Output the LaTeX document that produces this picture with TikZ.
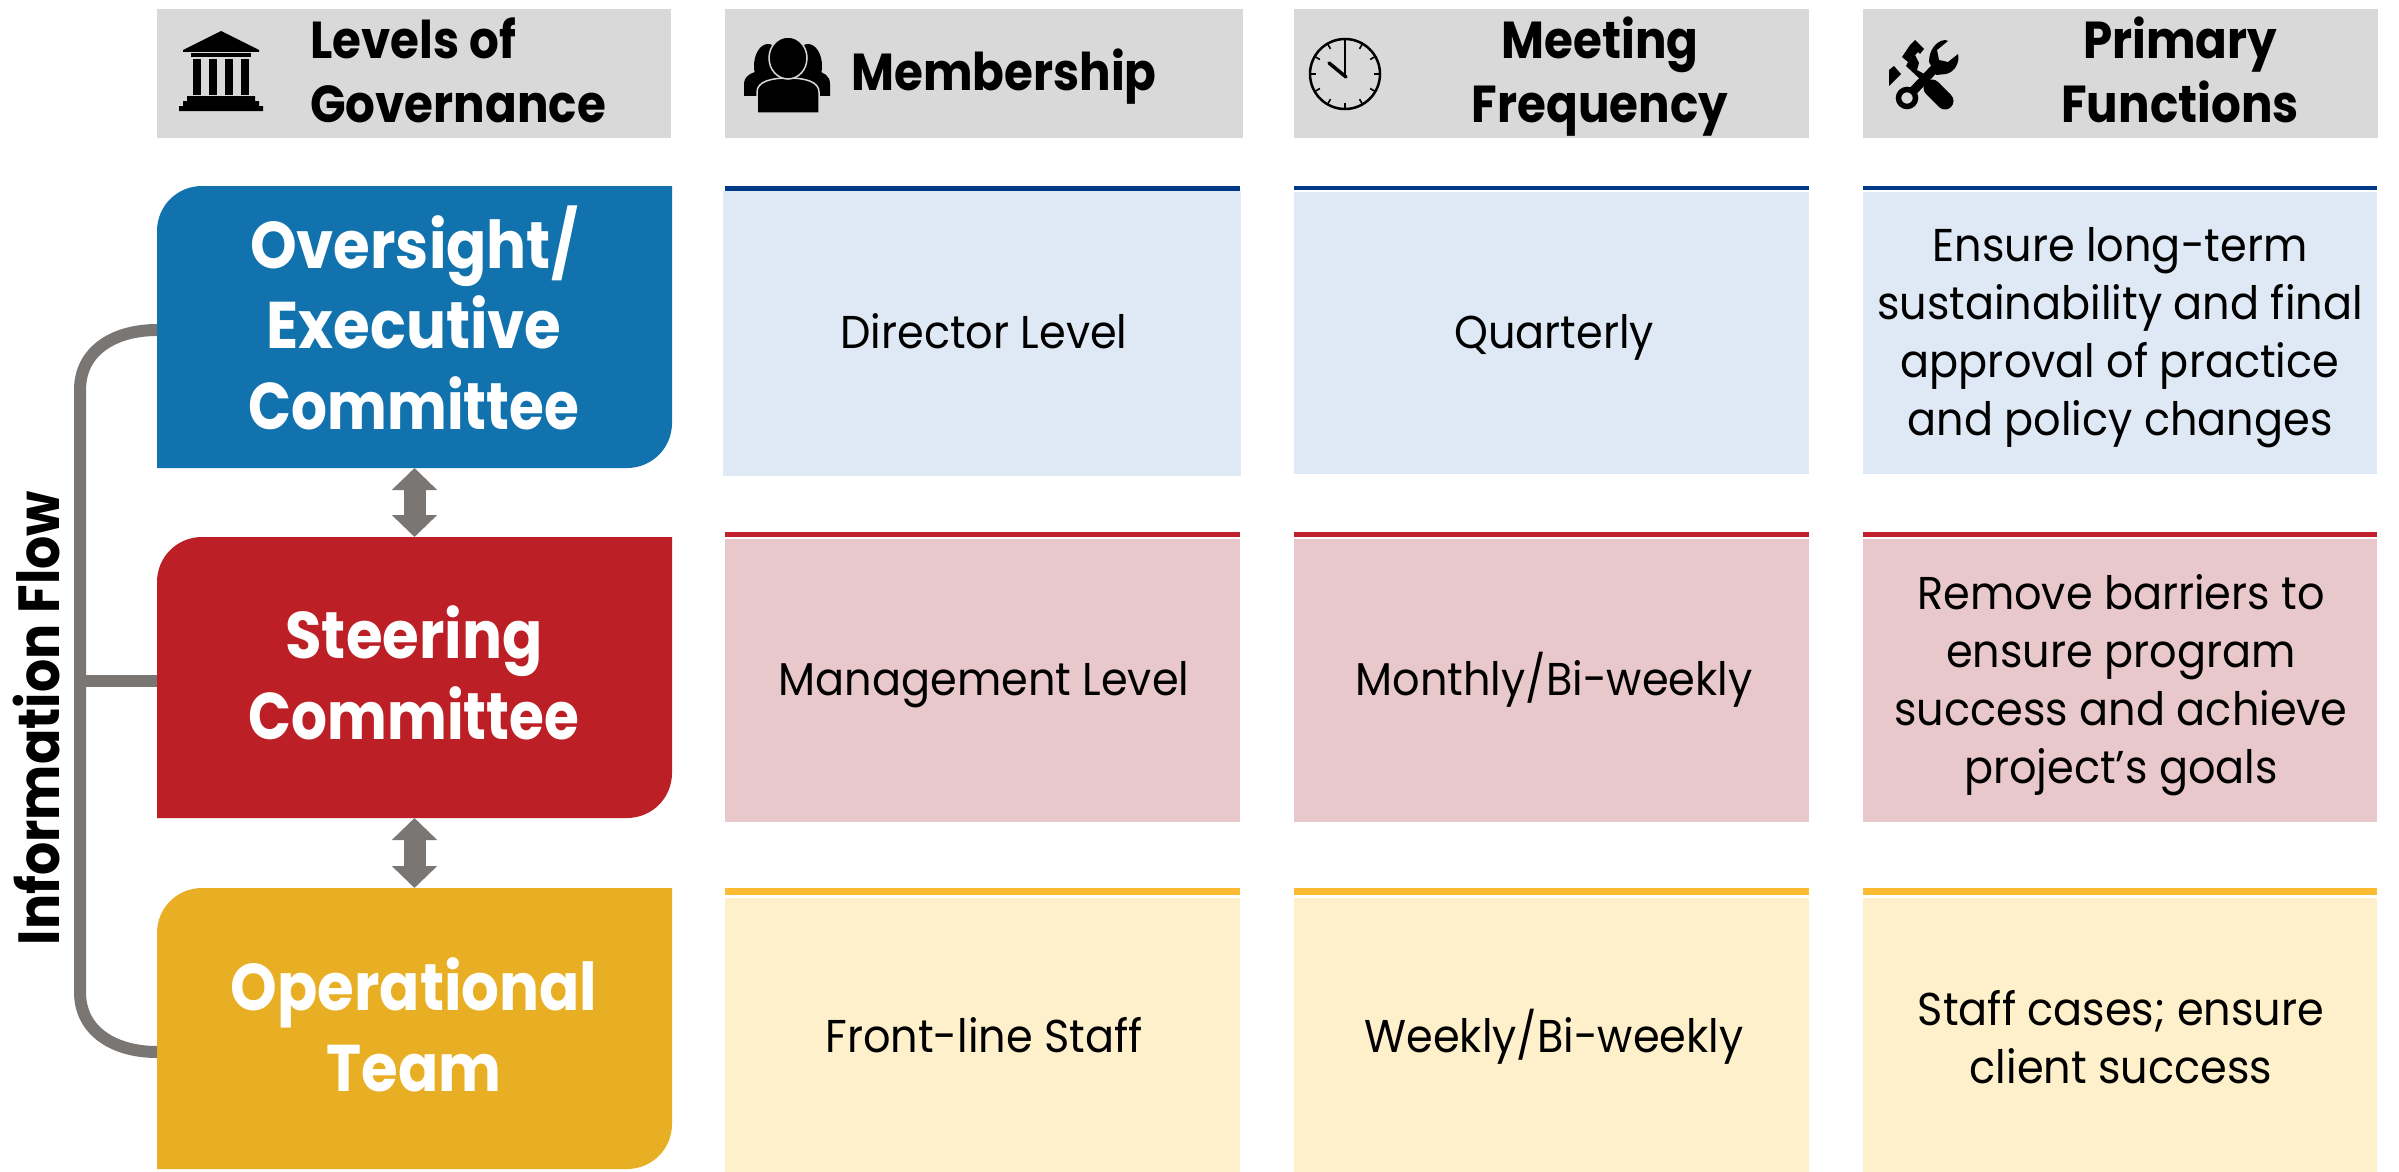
\documentclass[tikz,border=0pt]{standalone}
\usepackage{fontspec}
\usetikzlibrary{arrows.meta}
\setmainfont{Poppins}
\newfontfamily\bodyf[FakeStretch=0.935]{Poppins}
\newfontfamily\headf[FakeStretch=0.9]{Poppins}[BoldFont=Poppins Bold]
\newfontfamily\headn[FakeStretch=0.855]{Poppins}[BoldFont=Poppins Bold]
\definecolor{hdr}{HTML}{D9D9D9}
\definecolor{cblue}{HTML}{1172AE}
\definecolor{cred}{HTML}{BC1F25}
\definecolor{cgold}{HTML}{E8AF24}
\definecolor{cgrey}{HTML}{7A7674}
\definecolor{lblue}{HTML}{003A86}
\definecolor{lred}{HTML}{C0202C}
\definecolor{lgold}{HTML}{FDBA33}
\definecolor{fblue}{HTML}{DEE9F5}
\definecolor{fred}{HTML}{E9C8CB}
\definecolor{fgold}{HTML}{FFF0CC}
\tikzset{
  bodytxt/.style={anchor=base,inner sep=0pt,align=center,text=black,font=\bodyf\fontsize{46}{58}\selectfont},
  headtxt/.style={anchor=base,inner sep=0pt,align=center,text=black,font=\headf\bfseries\fontsize{52}{64}\selectfont},
  headleft/.style={headtxt,anchor=base west,align=left},
  leveltxt/.style={anchor=base,inner sep=0pt,align=center,text=white,font=\headf\bfseries\fontsize{66}{80.5}\selectfont},
  levelbox/.style={inner sep=0pt,outer sep=0pt,minimum width=515pt},
  flow/.style={draw=cgrey,line width=12pt,line cap=butt},
  updown/.style={draw=cgrey,line width=22pt,{Triangle[width=44pt,length=22pt]}-{Triangle[width=44pt,length=22pt]}},
}
% rounded level box: top-left and bottom-right corners curved
\newcommand\lvfill[3]{%
  \fill[#3] (157,#2) -- (157,#1+45) .. controls (157,#1+20) and (177,#1) .. (202,#1)
     -- (672,#1) -- (672,#2-45) .. controls (672,#2-20) and (652,#2) .. (627,#2) -- cycle;}
\begin{document}
\begin{tikzpicture}[x=1pt,y=-1pt]
\useasboundingbox (0,0) rectangle (2399,1172);
\fill[white] (0,0) rectangle (2399,1172);
% headers
\fill[hdr] (157,9) rectangle (671,138);
\fill[hdr] (725,9) rectangle (1243,138);
\fill[hdr] (1294,9) rectangle (1809,138);
\fill[hdr] (1863,9) rectangle (2378,138);
\node[headleft] (h1) at (310,122) {Levels of\\Governance};
\node[headtxt] (h2) at (1004,90) {Membership};
\node[headtxt] (h3) at (1600,122) {Meeting\\Frequency};
\node[headtxt] (h4) at (2180,122) {Primary\\Functions};
% building icon
\fill[black] (221,31) -- (259,50) -- (259,52) -- (183,52) -- (183,50) -- cycle;
\fill[black] (191,53) rectangle (251,57);
\foreach \cx in {197,213,229,245}{\fill[black] (\cx-4,59) rectangle (\cx+4,95);}
\fill[black] (187,96) -- (255,96) -- (255,101) -- (259,101) -- (259,106) -- (263,106) -- (263,111)
  -- (179,111) -- (179,106) -- (183,106) -- (183,101) -- (187,101) -- cycle;
% people icon
\fill[black] (744,96) -- (744,84) .. controls (744,76) and (752,72) .. (760,71) -- (816,71)
  .. controls (824,72) and (830,76) .. (830,84) -- (830,96) -- cycle;
\fill[black] (768,66) ellipse [x radius=14,y radius=22];
\fill[black] (808,66) ellipse [x radius=14,y radius=22];
\fill[black,draw=hdr,line width=1.5pt] (757,113) -- (757,92) .. controls (757,82) and (770,78) .. (788,78)
  .. controls (806,78) and (819,82) .. (819,92) -- (819,113) -- cycle;
\fill[black,draw=hdr,line width=1.5pt] (788,58) ellipse [x radius=19,y radius=21];
\fill[hdr] (744,96) rectangle (757,113);
\fill[hdr] (819,96) rectangle (831,113);
% clock icon
\draw[black,line width=2.5pt] (1345,74) circle [radius=35];
\foreach \a in {0,30,...,330}{\draw[black,line width=1.6pt] (1345,74) ++(\a:35) -- ++(\a+180:6);}
\draw[black,line width=1.4pt] (1345,77) -- (1345,45);
\draw[black,line width=3.5pt,line cap=round] (1346,77) -- (1329,63);
% tools icon
\draw[black,line width=9pt] (1913,91) -- (1940,63);
\draw[black,line width=5.5pt] (1907,98) circle [radius=8.5];
\fill[black] (1929,62) .. controls (1929,50) and (1936,41) .. (1945,40) -- (1948,41)
  -- (1937,50) -- (1939,60) -- (1948,62) -- (1958,54) .. controls (1960,62) and (1955,72) .. (1946,74)
  -- (1936,75) -- cycle;
\draw[black,line width=17pt,line cap=round] (1932,88) -- (1945,101);
\fill[black] (1910,45) -- (1915,40) -- (1924,49) -- (1920,54) -- (1918,52) -- (1915,55) -- (1919,63)
  -- (1917,70) -- (1926,75) -- (1921,80) -- (1906,66) -- (1908,62) -- (1902,57) -- cycle;
\fill[black] (1889,70) -- (1894,66) -- (1901,74) -- (1889,86) -- cycle;
% level boxes
\lvfill{186}{468}{cblue}
\lvfill{537}{818}{cred}
\lvfill{888}{1169}{cgold}
\node[levelbox,minimum height=282pt] (over) at (414.5,327) {};
\node[levelbox,minimum height=281pt] (steer) at (414.5,677.5) {};
\node[levelbox,minimum height=281pt] (oper) at (414.5,1028.5) {};
\node[leveltxt] (t1) at (414,429) {Oversight/\\Executive\\{\headn\bfseries Committee}};
\node[leveltxt] (t2) at (414,739) {Steering\\{\headn\bfseries Committee}};
\node[leveltxt] (t3) at (414,1091) {Operational\\Team};
% arrows
\draw[updown] (over.south) -- (steer.north);
\draw[updown] (steer.south) -- (oper.north);
% bracket
\coordinate (ba) at (157,330);
\coordinate (bb) at (157,681);
\coordinate (bc) at (157,1052);
\coordinate (bs) at (80,681);
\draw[flow] (ba) .. controls (115,330) and (80,350) .. (80,390) -- (80,992)
   .. controls (80,1032) and (115,1052) .. (bc);
\draw[flow] (bs) -- (bb);
\node[anchor=base,rotate=90,inner sep=0pt,text=black,font=\headf\bfseries\fontsize{58}{60}\selectfont] (flowlab) at (59,718) {Information Flow};
% cells, row 1
\fill[fblue] (723,191) rectangle (1241,476);
\fill[lblue] (725,186) rectangle (1240,191);
\fill[fblue] (1294,192) rectangle (1809,474);
\fill[lblue] (1294,186) rectangle (1809,190);
\fill[fblue] (1863,192) rectangle (2377,474);
\fill[lblue] (1863,186) rectangle (2377,190);
% row 2
\fill[fred] (725,539) rectangle (1240,822);
\fill[lred] (725,532) rectangle (1240,537);
\fill[fred] (1294,539) rectangle (1809,822);
\fill[lred] (1294,532) rectangle (1809,537);
\fill[fred] (1863,539) rectangle (2377,822);
\fill[lred] (1863,532) rectangle (2377,537);
% row 3
\fill[fgold] (725,898) rectangle (1240,1172);
\fill[lgold] (725,888) rectangle (1240,895);
\fill[fgold] (1294,898) rectangle (1809,1172);
\fill[lgold] (1294,888) rectangle (1809,895);
\fill[fgold] (1863,898) rectangle (2377,1172);
\fill[lgold] (1863,888) rectangle (2377,895);
% cell texts
\node[bodytxt] (a1) at (984,348) {Director Level};
\node[bodytxt] (a2) at (1554,348) {Quarterly};
\node[bodytxt] (a3) at (2120,435) {Ensure long-term\\sustainability and final\\approval of practice\\and policy changes};
\node[bodytxt] (b1) at (984,695) {Management Level};
\node[bodytxt] (b2) at (1554,695) {Monthly/Bi-weekly};
\node[bodytxt] (b3) at (2121,783) {Remove barriers to\\ensure program\\success and achieve\\project’s goals};
\node[bodytxt] (c1) at (984,1052) {Front-line Staff};
\node[bodytxt] (c2) at (1554,1052) {Weekly/Bi-weekly};
\node[bodytxt] (c3) at (2121,1083) {Staff cases; ensure\\client success};
\end{tikzpicture}
\end{document}
